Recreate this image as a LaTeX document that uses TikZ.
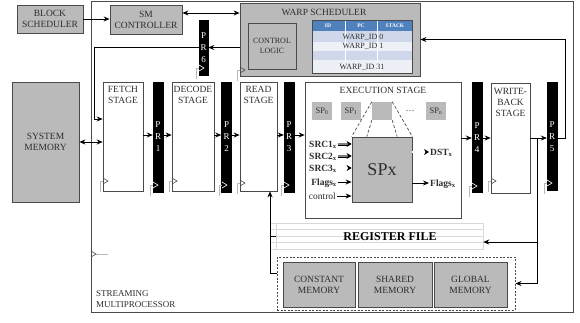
\documentclass[tikz,border=0pt]{standalone}
\usepackage{fontspec}
\setmainfont{Liberation Serif}
\usetikzlibrary{arrows.meta,calc}
\definecolor{txt}{HTML}{2E2E2E}
\definecolor{bord}{HTML}{4A4A4A}
\definecolor{gfill}{HTML}{BABABA}
\definecolor{hdr}{HTML}{4F81BD}
\definecolor{rowa}{HTML}{CFD8EA}
\definecolor{rowb}{HTML}{EDF0F6}
\definecolor{clkc}{HTML}{B8B8B8}
\definecolor{stripe}{HTML}{D9D9D9}
\newcommand{\clkmark}[3]{%
  \draw[clkc, line width=0.6pt] (#1-3,#2+11) -- (#1-3,#2) -- (#1,#2);
  \draw[#3, line width=0.6pt] (#1,#2-3) -- (#1+5,#2) -- (#1,#2+3);}
\tikzset{
  base/.style={font=\fontsize{9.5}{11}\selectfont, text=txt, align=center, inner sep=0pt},
  gbox/.style={base, draw=bord, fill=gfill, line width=0.8pt},
  stagebox/.style={draw=bord, fill=white, line width=0.6pt, inner sep=0pt},
  prbar/.style={fill=black, draw=black, minimum width=10pt, minimum height=110pt, inner sep=0pt},
  prtxt/.style={text=white, font=\fontsize{9}{12}\selectfont, align=center, inner sep=0pt},
  arr/.style={-{Stealth[length=6pt,width=5pt]}, line width=0.9pt},
  darr/.style={{Stealth[length=6pt,width=5pt]}-{Stealth[length=6pt,width=5pt]}, line width=0.9pt},
  spsmall/.style={fill=gfill, minimum width=20pt, minimum height=18pt, inner sep=0pt, font=\fontsize{8.5}{9}\selectfont, text=txt},
  inlbl/.style={font=\fontsize{9.5}{10}\selectfont\bfseries, text=txt, inner sep=0pt, text height=6.5pt, text depth=0pt, anchor=east},
  dbl/.style={double=white, double distance=1.4pt, line width=0.6pt, -{Stealth[length=5pt,width=6pt]}},
  zoomln/.style={bord, line width=0.7pt, dash pattern=on 3pt off 2pt},
  hdrtxt/.style={text=white, font=\fontsize{5.5}{6}\selectfont\bfseries, inner sep=0pt},
  rowtxt/.style={text=txt, font=\fontsize{8}{9}\selectfont, inner sep=0pt},
}
\begin{document}
\begin{tikzpicture}[x=1pt,y=-1pt]
\useasboundingbox (0,0) rectangle (580,322);
\fill[white] (0,0) rectangle (580,322);
% streaming multiprocessor frame
\node[draw=bord, line width=0.8pt, minimum width=482pt, minimum height=311pt, inner sep=0pt] (sm) at (332,156.5) {};
\node[base, font=\fontsize{9}{11}\selectfont, align=left, anchor=north west] (smT) at (96,290) {STREAMING\\MULTIPROCESSOR};
\draw[clkc, line width=0.6pt] (96,254) -- (108,254);
\draw[bord, line width=0.6pt] (91,251) -- (96,254) -- (91,257);
% top row
\node[gbox, minimum width=66pt, minimum height=28pt] (bs) at (50,19) {BLOCK\\SCHEDULER};
\node[gbox, minimum width=72pt, minimum height=29pt] (smc) at (146,19.5) {SM\\CONTROLLER};
% warp scheduler
\node[gbox, minimum width=180pt, minimum height=73pt] (warp) at (330,39.5) {};
\node[base] (warpT) at (324,12) {WARP SCHEDULER};
\node[gbox, font=\fontsize{8}{10}\selectfont, minimum width=48pt, minimum height=46pt] (ctrl) at (272,46) {CONTROL\\LOGIC};
\fill[rowb] (312,20) rectangle (412,73);
\fill[hdr] (312,20) rectangle (412,31);
\fill[rowa] (312,31) rectangle (412,42);
\fill[rowa] (312,51) rectangle (412,60);
\draw[white, line width=0.5pt] (345,20) -- (345,73) (377,20) -- (377,73);
\draw[bord, line width=0.6pt] (312,20) rectangle (412,73);
\node[hdrtxt] (hID) at (328,25.5) {ID};
\node[hdrtxt] (hPC) at (361,25.5) {PC};
\node[hdrtxt] (hST) at (395,25.5) {STACK};
\node[rowtxt] (w0) at (363,37.5) {WARP\_ID 0};
\node[rowtxt] (w1) at (363,46.5) {WARP\_ID 1};
\node[rowtxt] (w31) at (362,67.5) {WARP\_ID 31};
\clkmark{240}{70}{bord}
% PR6
\node[prbar, minimum width=9pt, minimum height=55pt] (pr6) at (203.5,47.5) {};
\node[prtxt] (pr6T) at (203.5,47.5) {P\\R\\6};
\clkmark{199}{68}{white}
% system memory
\node[gbox, minimum width=67pt, minimum height=120pt] (sysmem) at (45.5,142) {SYSTEM\\MEMORY};
% pipeline stages
\node[stagebox, minimum width=40pt, minimum height=109pt] (fetch) at (123,136.5) {};
\node[base, anchor=north] (fetchT) at ([yshift=-4.5pt]fetch.north) {FETCH\\STAGE};
\node[prbar] (pr1) at (158,137) {};
\node[prtxt] (pr1T) at (158,137) {P\\R\\1};
\node[stagebox, minimum width=42pt, minimum height=109pt] (decode) at (193,136.5) {};
\node[base, anchor=north] (decodeT) at ([yshift=-4.5pt]decode.north) {DECODE\\STAGE};
\node[prbar] (pr2) at (226.5,137) {};
\node[prtxt] (pr2T) at (226.5,137) {P\\R\\2};
\node[stagebox, minimum width=37pt, minimum height=109pt] (read) at (258.5,136.5) {};
\node[base, anchor=north] (readT) at ([yshift=-4.5pt]read.north) {READ\\STAGE};
\node[prbar] (pr3) at (289,137) {};
\node[prtxt] (pr3T) at (289,137) {P\\R\\3};
\node[stagebox, minimum width=156pt, minimum height=136pt] (exec) at (383,150) {};
\node[base, anchor=north] (execT) at ([yshift=-5.5pt]exec.north) {EXECUTION STAGE};
\node[prbar] (pr4) at (477,137.5) {};
\node[prtxt] (pr4T) at (477,137.5) {P\\R\\4};
\node[stagebox, minimum width=39pt, minimum height=110pt] (wb) at (510.5,138) {};
\node[base, anchor=north] (wbT) at ([yshift=-5pt]wb.north) {WRITE-\\BACK\\STAGE};
\node[prbar, minimum height=108pt] (pr5) at (552,136) {};
\node[prtxt] (pr5T) at (552,137) {P\\R\\5};
% clocks
\clkmark{103}{181}{bord}
\clkmark{153}{185}{white}
\clkmark{172}{181}{bord}
\clkmark{222}{185}{white}
\clkmark{240}{183}{bord}
\clkmark{284}{185}{white}
\clkmark{472}{186}{white}
\clkmark{491}{181}{bord}
\clkmark{547}{183}{white}
% execution stage content
\node[spsmall] (sp0) at (322,111) {SP\textsubscript{0}};
\node[spsmall] (sp1) at (351,111) {SP\textsubscript{1}};
\node[spsmall] (spz) at (382,111) {};
\node[text=txt, inner sep=0pt, font=\fontsize{9}{9}\selectfont] (dots) at (410,111) {\dots};
\node[spsmall] (spn) at (436,111) {SP\textsubscript{n}};
\node[gbox, font=\fontsize{18}{18}\selectfont, minimum width=60pt, minimum height=65pt] (spx) at (382,169.5) {SPx};
\draw[zoomln] (spz.north west) -- (spx.north west);
\draw[zoomln] (spz.north east) -- (spx.north east);
\draw[zoomln] (spz.south west) -- ($(spx.north west)!0.25!(spx.north east)$);
\draw[zoomln] (spz.south east) -- ($(spx.north west)!0.75!(spx.north east)$);
\node[inlbl] (s1) at (337,144) {SRC1\textsubscript{x}};
\node[inlbl] (s2) at (337,156) {SRC2\textsubscript{x}};
\node[inlbl] (s3) at (337,168) {SRC3\textsubscript{x}};
\node[inlbl] (fin) at (337,182) {Flags\textsubscript{x}};
\node[inlbl, font=\fontsize{9.5}{10}\selectfont] (ctl) at (336,196) {control};
\draw[dbl, double=black!50, double distance=1.8pt] ([xshift=1pt]s1.east) -- (s1.east -| spx.west);
\draw[dbl, double=black!50, double distance=1.8pt] ([xshift=1pt]s2.east) -- (s2.east -| spx.west);
\draw[dbl] ([xshift=1pt]s3.east) -- (s3.east -| spx.west);
\draw[arr] ([xshift=1pt]fin.east) -- (fin.east -| spx.west);
\draw[arr] ([xshift=1pt]ctl.east) -- (ctl.east -| spx.west);
\node[inlbl, anchor=west] (dst) at (430,152) {DST\textsubscript{x}};
\node[inlbl, anchor=west] (fout) at (430,183) {Flags\textsubscript{x}};
\draw[dbl] (spx.east |- dst.west) -- ([xshift=-1pt]dst.west);
\draw[arr] (spx.east |- fout.west) -- ([xshift=-1pt]fout.west);
% register file
\foreach \yy in {223,229.5,236,242.5,249} \draw[stripe, line width=0.5pt] (270,\yy) -- (483,\yy);
\node[draw=stripe, line width=0.5pt, minimum width=207pt, minimum height=26pt, inner sep=0pt] (regfile) at (379.5,236) {};
\node[font=\fontsize{12}{12}\selectfont\bfseries, text=black, inner sep=0pt] (regT) at (390,237) {REGISTER FILE};
% memories
\node[draw=bord, line width=0.9pt, dash pattern=on 2pt off 1.5pt, minimum width=238pt, minimum height=53pt, inner sep=0pt] (membox) at (396,283.5) {};
\node[gbox, minimum width=72pt, minimum height=45pt] (cmem) at (319,284.5) {CONSTANT\\MEMORY};
\node[gbox, minimum width=74pt, minimum height=45pt] (shmem) at (395,284.5) {SHARED\\MEMORY};
\node[gbox, minimum width=73pt, minimum height=45pt] (glmem) at (470.5,284.5) {GLOBAL\\MEMORY};
% connectors
\coordinate (yT) at (0,13);
\coordinate (yF) at (0,119);
\coordinate (xF) at (94,0);
\coordinate (yA) at (0,135);
\coordinate (yB) at (0,138);
\coordinate (yR) at (0,242);
\coordinate (wbtap) at (537,138);
\coordinate (rdtap) at (270,273);
\draw[arr] (bs.east) -- (bs.east -| smc.west);
\draw[darr] (smc.east |- yT) -- (warp.west |- yT);
\draw[arr] (warp.west |- pr6.east) -- (pr6.east);
\draw[arr] (pr6.west) -| (xF |- yF) -- (fetch.west |- yF);
\draw[darr] (sysmem.east) -- (sysmem.east -| fetch.west);
\draw[arr] (fetch.east |- yA) -- (pr1.west |- yA);
\draw[arr] (pr1.east |- yA) -- (decode.west |- yA);
\draw[arr] (decode.east |- yA) -- (pr2.west |- yA);
\draw[arr] (pr2.east |- yA) -- (read.west |- yA);
\draw[arr] (read.east |- yA) -- (pr3.west |- yA);
\draw[arr] (pr3.east |- yA) -- (exec.west |- yA);
\draw[arr] (exec.east |- yB) -- (pr4.west |- yB);
\draw[arr] (pr4.east |- yB) -- (wb.west |- yB);
\draw[arr] (wb.east |- yB) -- (pr5.west |- yB);
\draw[arr] (pr5.east |- yB) -- ++(8,0) |- (warp.east);
\draw[arr] (wbtap) |- (membox.east);
\draw[arr] (wbtap |- yR) -- (regfile.east |- yR);
\draw[arr] (rdtap) -- (rdtap |- read.south);
\draw[line width=0.9pt] (rdtap) -- (rdtap -| membox.west);
\draw[line width=0.9pt] (rdtap |- regfile.west) -- (regfile.west);
\end{tikzpicture}
\end{document}
